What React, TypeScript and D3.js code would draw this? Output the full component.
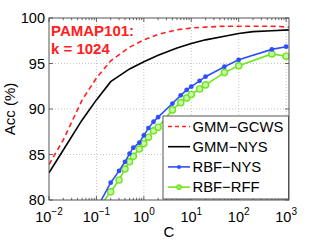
import React, { useRef, useEffect } from 'react';
import * as d3 from 'd3';

// C grid for the GMM curves (dense lines, no markers)
const gmmC = [0.01, 0.02, 0.05, 0.1, 0.2, 0.5, 1, 2, 5, 10, 20, 50, 100, 200, 500, 1150];
const gmmGcws = [83.9, 86.6, 91.0, 93.4, 95.3, 96.8, 97.6, 98.2, 98.7, 98.9, 99.0, 99.1, 99.1, 99.1, 99.1, 99.0];
const gmmNys = [83.0, 85.5, 88.8, 91.0, 93.0, 94.4, 95.2, 95.9, 96.7, 97.2, 97.6, 98.0, 98.3, 98.5, 98.6, 98.7];

// C grid for the RBF curves (with markers)
const rbfC = [0.1, 0.2, 0.3, 0.4, 0.5, 0.6, 0.8, 1, 1.25, 1.6, 2, 4, 6, 8, 10, 15, 20, 50, 100, 500, 1000];
const rbfNys = [79.0, 81.9, 83.2, 84.2, 85.1, 85.75, 86.3, 87.1, 87.9, 88.6, 89.1, 90.6, 91.5, 92.1, 92.45, 93.1, 93.55, 94.65, 95.4, 96.55, 96.85];
const rbfRff = [78.8, 80.9, 82.2, 83.4, 84.2, 84.8, 85.6, 86.2, 86.9, 87.6, 88.0, 89.9, 90.7, 91.2, 91.6, 92.2, 92.65, 94.0, 94.75, 96.05, 95.8];

const yTicks = [80, 85, 90, 95, 100];
const xTicks = [-2, -1, 0, 1, 2, 3];
const legendNames = ['GMM\u2212GCWS', 'GMM\u2212NYS', 'RBF\u2212NYS', 'RBF\u2212RFF'];

const RED = '#ff2020';
const BLUE = '#2f4fff';
const GREEN = '#6ee61e';

const App: React.FC = () => {
  const svgRef = useRef<SVGSVGElement>(null);
  const width = 319;
  const height = 240;

  useEffect(() => {
    if (!svgRef.current) return;
    const svg = d3.select(svgRef.current);
    svg.selectAll('*').remove();

    const left = 49, right = 289, top = 18, bottom = 200;
    const x = d3.scaleLog().domain([0.01, 1150]).range([left, right]);
    const y = d3.scaleLinear().domain([80, 100]).range([bottom, top]);
    const font = 'Liberation Sans, Arial, sans-serif';

    svg.append('rect').attr('width', width).attr('height', height).attr('fill', 'white');

    svg.append('clipPath').attr('id', 'plot-clip')
      .append('rect').attr('x', left).attr('y', top)
      .attr('width', right - left).attr('height', bottom - top);

    // grid
    const grid = svg.append('g').attr('stroke', '#b8b8b8').attr('stroke-width', 0.8)
      .attr('stroke-dasharray', '1,2');
    yTicks.slice(1, -1).forEach((t) => {
      grid.append('line').attr('x1', left).attr('x2', right).attr('y1', y(t)).attr('y2', y(t));
    });
    xTicks.forEach((e) => {
      const px = x(Math.pow(10, e));
      if (px <= left + 1) return;
      grid.append('line').attr('x1', px).attr('x2', px).attr('y1', top).attr('y2', bottom);
    });

    // ticks
    const ticks = svg.append('g').attr('stroke', '#444').attr('stroke-width', 0.8);
    yTicks.forEach((t) => {
      ticks.append('line').attr('x1', left).attr('x2', left + 4).attr('y1', y(t)).attr('y2', y(t));
      ticks.append('line').attr('x1', right).attr('x2', right - 4).attr('y1', y(t)).attr('y2', y(t));
    });
    for (let e = -2; e <= 3; e++) {
      for (let k = 1; k <= 9; k++) {
        const v = k * Math.pow(10, e);
        if (v > 1150) continue;
        const px = x(v);
        const len = k === 1 ? 4 : 2.2;
        ticks.append('line').attr('x1', px).attr('x2', px).attr('y1', bottom).attr('y2', bottom - len);
        ticks.append('line').attr('x1', px).attr('x2', px).attr('y1', top).attr('y2', top + len);
      }
    }

    const plot = svg.append('g').attr('clip-path', 'url(#plot-clip)');
    const line = d3.line<[number, number]>().x((d) => x(d[0])).y((d) => y(d[1]));

    const zipped = (cs: number[], vs: number[]) => cs.map((c, i) => [c, vs[i]] as [number, number]);

    plot.append('path').attr('d', line(zipped(gmmC, gmmNys)))
      .attr('fill', 'none').attr('stroke', '#000').attr('stroke-width', 1.6);
    plot.append('path').attr('d', line(zipped(gmmC, gmmGcws)))
      .attr('fill', 'none').attr('stroke', RED).attr('stroke-width', 1.6)
      .attr('stroke-dasharray', '5,3.5');

    plot.append('path').attr('d', line(zipped(rbfC, rbfRff)))
      .attr('fill', 'none').attr('stroke', GREEN).attr('stroke-width', 1.6);
    plot.selectAll('.rff').data(zipped(rbfC, rbfRff)).enter().append('circle')
      .attr('cx', (d) => x(d[0])).attr('cy', (d) => y(d[1])).attr('r', 3.1)
      .attr('fill', '#c8f8a8').attr('stroke', GREEN).attr('stroke-width', 1.4);

    plot.append('path').attr('d', line(zipped(rbfC, rbfNys)))
      .attr('fill', 'none').attr('stroke', BLUE).attr('stroke-width', 1.6);
    plot.selectAll('.nys').data(zipped(rbfC, rbfNys)).enter().append('circle')
      .attr('cx', (d) => x(d[0])).attr('cy', (d) => y(d[1])).attr('r', 2.4)
      .attr('fill', BLUE);

    // frame
    svg.append('rect').attr('x', left).attr('y', top).attr('width', right - left)
      .attr('height', bottom - top).attr('fill', 'none').attr('stroke', '#444').attr('stroke-width', 0.9);

    // y tick labels
    yTicks.forEach((t) => {
      svg.append('text').attr('x', left - 4).attr('y', y(t) + 5)
        .attr('text-anchor', 'end').attr('font-family', font).attr('font-size', 14.5)
        .text(t);
    });

    // x tick labels 10^e
    xTicks.forEach((e) => {
      const t = svg.append('text').attr('x', x(Math.pow(10, e))).attr('y', 222)
        .attr('text-anchor', 'middle').attr('font-family', font).attr('font-size', 14.5);
      t.append('tspan').text('10');
      t.append('tspan').attr('dy', -7).attr('font-size', 10).text(e < 0 ? '\u2212' + -e : String(e));
    });

    svg.append('text').attr('x', (left + right) / 2).attr('y', 237)
      .attr('text-anchor', 'middle').attr('font-family', font).attr('font-size', 15).text('C');
    svg.append('text').attr('transform', `translate(15,${(top + bottom) / 2}) rotate(-90)`)
      .attr('text-anchor', 'middle').attr('font-family', font).attr('font-size', 15).text('Acc (%)');

    // annotation
    const note = svg.append('g').attr('fill', RED).attr('font-family', font)
      .attr('font-size', 15).attr('font-weight', 'bold');
    note.append('text').attr('x', 51).attr('y', 36).text('PAMAP101:');
    note.append('text').attr('x', 51).attr('y', 53.5).text('k = 1024');

    // legend
    const lg = svg.append('g');
    lg.append('rect').attr('x', 163).attr('y', 116).attr('width', 125.5).attr('height', 83)
      .attr('fill', 'white').attr('stroke', '#444').attr('stroke-width', 0.9);
    const styles = [
      { color: RED, dash: '4,3', marker: '' },
      { color: '#000', dash: '', marker: '' },
      { color: BLUE, dash: '', marker: 'dot' },
      { color: GREEN, dash: '', marker: 'ring' },
    ];
    legendNames.forEach((name, i) => {
      const cy = 126.5 + i * 20.2;
      const s = styles[i];
      lg.append('line').attr('x1', 168).attr('x2', 190).attr('y1', cy).attr('y2', cy)
        .attr('stroke', s.color).attr('stroke-width', 1.6)
        .attr('stroke-dasharray', s.dash || null);
      if (s.marker === 'dot') {
        lg.append('circle').attr('cx', 179).attr('cy', cy).attr('r', 2).attr('fill', BLUE);
      } else if (s.marker === 'ring') {
        lg.append('circle').attr('cx', 179).attr('cy', cy).attr('r', 2.3)
          .attr('fill', '#9cee60').attr('stroke', GREEN).attr('stroke-width', 1.2);
      }
      lg.append('text').attr('x', 192.5).attr('y', cy + 5).attr('font-family', font)
        .attr('font-size', 14.8).text(name);
    });
  }, []);

  return (
    <svg ref={svgRef} width={width} height={height}
      style={{ position: 'absolute', left: 0, top: 0, display: 'block' }} />
  );
};

export default App;
